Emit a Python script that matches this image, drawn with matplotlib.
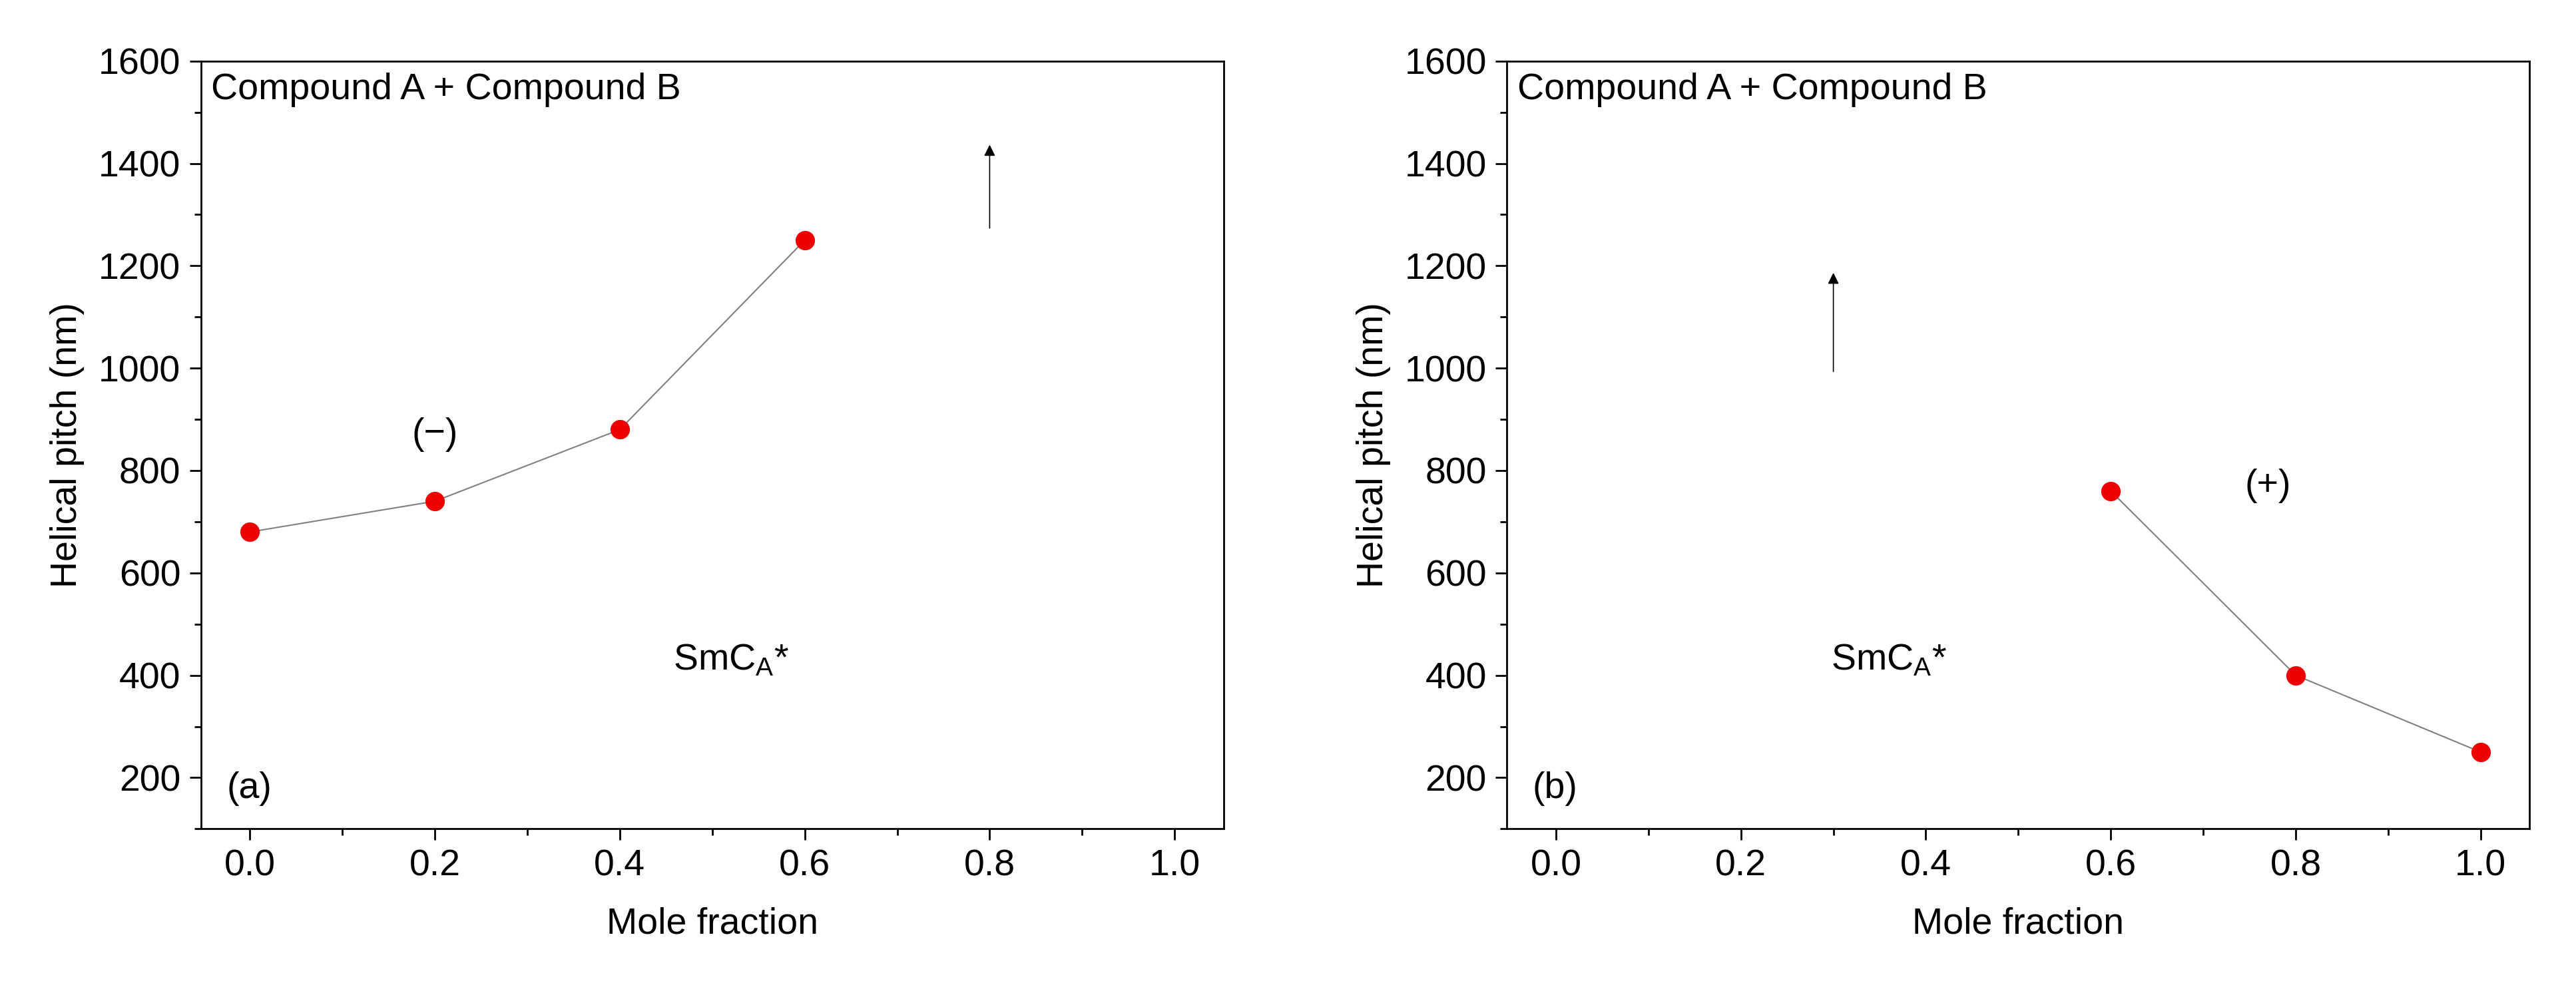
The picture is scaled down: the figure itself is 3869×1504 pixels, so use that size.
import matplotlib
matplotlib.use("Agg")
import matplotlib.pyplot as plt
from matplotlib.ticker import MultipleLocator

plt.rcParams['font.family'] = ['Liberation Sans', 'DejaVu Sans']

xa = [0.0, 0.2, 0.4, 0.6]
ya = [680, 740, 880, 1250]
xb = [0.6, 0.8, 1.0]
yb = [760, 400, 250]
xticks = [0.0, 0.2, 0.4, 0.6, 0.8, 1.0]
yticks = [200, 400, 600, 800, 1000, 1200, 1400, 1600]

fig = plt.figure(figsize=(38.69, 15.04), dpi=100)
axA = fig.add_axes([0.078, 0.172, 0.397, 0.767])
axB = fig.add_axes([0.585, 0.172, 0.397, 0.767])

fs = 40
for ax, x, y, lab in [(axA, xa, ya, '(a)'), (axB, xb, yb, '(b)')]:
    ax.plot(x, y, color='#808080', lw=1.5, zorder=1)
    ax.scatter(x, y, s=400, color='#ee0000', edgecolors='#ee0000', zorder=2)
    ax.set_xlim(-0.053, 1.053)
    ax.set_ylim(100, 1600)
    ax.set_xticks(xticks)
    ax.set_xticklabels([f"{t:.1f}" for t in xticks])
    ax.set_yticks(yticks)
    ax.xaxis.set_minor_locator(MultipleLocator(0.1))
    ax.yaxis.set_minor_locator(MultipleLocator(100))
    ax.tick_params(which='major', direction='out', length=12, width=2, labelsize=fs, pad=10)
    ax.tick_params(which='minor', direction='out', length=7, width=2)
    for s in ax.spines.values():
        s.set_linewidth(2)
    ax.set_xlabel('Mole fraction', fontsize=fs, labelpad=25)
    ax.set_ylabel('Helical pitch (nm)', fontsize=fs, labelpad=15)
    ax.text(0.01, 0.985, 'Compound A + Compound B', transform=ax.transAxes,
            fontsize=fs, va='top', ha='left')
    ax.text(0.025, 0.03, lab, transform=ax.transAxes, fontsize=fs, va='bottom', ha='left')

axA.text(0.2, 870, '(−)', fontsize=fs, ha='center', va='center')
axA.text(0.52, 430, r'SmC$_\mathregular{A}$*', fontsize=fs, ha='center', va='center')
axA.annotate('', xy=(0.8, 1440), xytext=(0.8, 1270),
             arrowprops=dict(arrowstyle='-|>', color='black', lw=1.2, mutation_scale=25))

axB.text(0.77, 770, '(+)', fontsize=fs, ha='center', va='center')
axB.text(0.36, 430, r'SmC$_\mathregular{A}$*', fontsize=fs, ha='center', va='center')
axB.annotate('', xy=(0.3, 1190), xytext=(0.3, 990),
             arrowprops=dict(arrowstyle='-|>', color='black', lw=1.2, mutation_scale=25))

fig.savefig('out.png', dpi=100, facecolor='white')
